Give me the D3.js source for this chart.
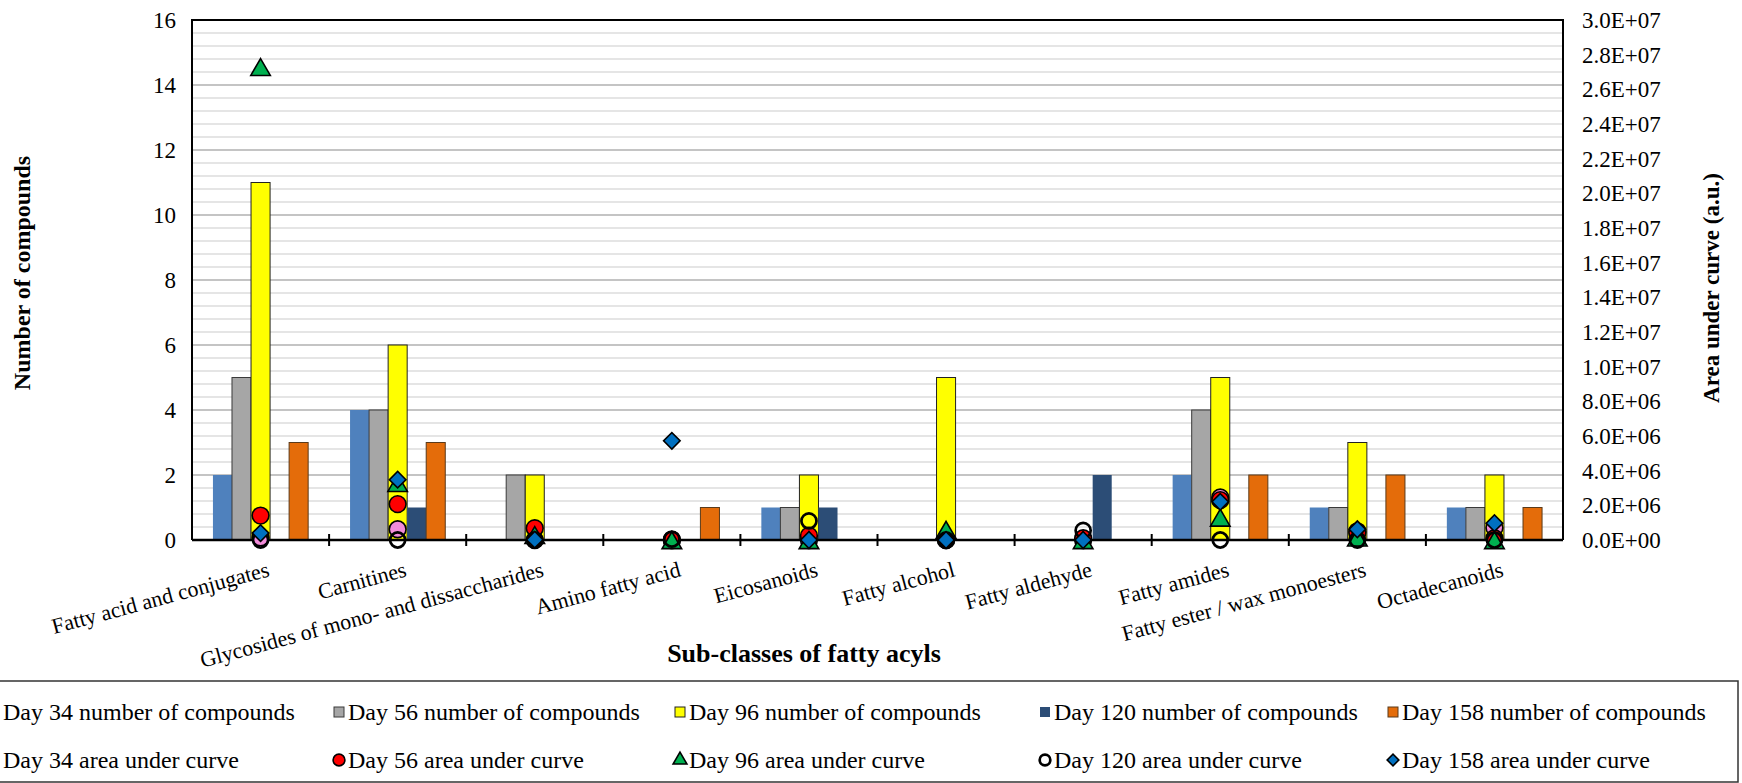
<!DOCTYPE html>
<html>
<head>
<meta charset="utf-8">
<script src="https://cdn.jsdelivr.net/npm/d3@7"></script>
<style>
  body { margin: 0; background: #fff; }
  svg { display: block; font-family: "Liberation Serif", "Times New Roman", serif; }
</style>
</head>
<body>
<svg width="1742" height="783"></svg>
<script>
// categories (sub-classes of fatty acyls)
var categories = ["Fatty acid and conjugates", "Carnitines", "Glycosides of mono- and dissaccharides",
  "Amino fatty acid", "Eicosanoids", "Fatty alcohol", "Fatty aldehyde", "Fatty amides",
  "Fatty ester / wax monoesters", "Octadecanoids"]
var days = ["Day 34", "Day 56", "Day 96", "Day 120", "Day 158"]

// number of compounds (left axis)
var count34  = [2, 4, 0, 0, 1, 0, 0, 2, 1, 1]
var count56  = [5, 4, 2, 0, 1, 0, 0, 4, 1, 1]
var count96  = [11, 6, 2, 0, 2, 5, 0, 5, 3, 2]
var count120 = [0, 1, 0, 0, 1, 0, 2, 0, 0, 0]
var count158 = [3, 3, 0, 1, 0, 0, 0, 2, 2, 1]

// area under curve (right axis)
var area34  = [0.15e6, 0.62e6, 0, 0, 0, 0, 0, 2.45e6, 0.5e6, 0.7e6]
var area56  = [1.41e6, 2.07e6, 0.68e6, 0, 0.25e6, 0, 0.1e6, 2.3e6, 0.42e6, 0.1e6]
var area96  = [27.3e6, 3.3e6, 0.3e6, 0, 0, 0.6e6, 0, 1.3e6, 0.15e6, 0]
var area120 = [0, 0, 0, 0.05e6, 1.1e6, 0, 0.55e6, 0, 0, 0]
var area158 = [0.4e6, 3.48e6, 0.02e6, 5.72e6, 0, 0, 0, 2.2e6, 0.62e6, 0.97e6]

var leftTicks = [0, 2, 4, 6, 8, 10, 12, 14, 16]
var rightTicks = [0, 2e6, 4e6, 6e6, 8e6, 10e6, 12e6, 14e6, 16e6, 18e6, 20e6, 22e6, 24e6, 26e6, 28e6, 30e6]

var counts = [count34, count56, count96, count120, count158]
var areas = [area34, area56, area96, area120, area158]

var barColors = ["#4f81bd", "#a6a6a6", "#ffff00", "#2c4d76", "#e46c0a"]
var barStroke = [null, "#3a3a3a", "#222", null, "#5a3a1a"]

var svg = d3.select("svg"),
    pLeft = 192, pRight = 1563, pTop = 20, pBottom = 540

var x = d3.scaleBand().domain(categories).range([pLeft, pRight])
var xi = d3.scaleBand().domain(days).range([0, x.bandwidth()]).paddingOuter(1.1)
var yL = d3.scaleLinear().domain([0, 16]).range([pBottom, pTop])
var yR = d3.scaleLinear().domain([0, 3e7]).range([pBottom, pTop])

// gridlines
var grid = svg.append("g")
grid.selectAll("line.minor")
  .data(d3.range(0.4, 16, 0.4).filter(function(d) { return Math.abs(d / 2 - Math.round(d / 2)) > 0.01 }))
  .enter().append("line")
  .attr("x1", pLeft).attr("x2", pRight)
  .attr("y1", function(d) { return yL(d) }).attr("y2", function(d) { return yL(d) })
  .attr("stroke", "#dcdcdc").attr("stroke-width", 1.3)
grid.selectAll("line.major")
  .data(leftTicks.slice(1, -1))
  .enter().append("line")
  .attr("x1", pLeft).attr("x2", pRight)
  .attr("y1", function(d) { return yL(d) }).attr("y2", function(d) { return yL(d) })
  .attr("stroke", "#b0b0b0").attr("stroke-width", 1.3)

// bars
counts.forEach(function(arr, s) {
  svg.append("g").selectAll("rect")
    .data(arr.map(function(v, i) { return {c: categories[i], v: v} }).filter(function(d) { return d.v > 0 }))
    .enter().append("rect")
    .attr("x", function(d) { return x(d.c) + xi(days[s]) })
    .attr("y", function(d) { return yL(d.v) })
    .attr("width", xi.bandwidth())
    .attr("height", function(d) { return yL(0) - yL(d.v) })
    .attr("fill", barColors[s])
    .attr("stroke", barStroke[s] || "none")
    .attr("stroke-width", 1)
})

// plot frame
svg.append("path")
  .attr("d", "M" + pLeft + "," + pBottom + "V" + pTop + "H" + pRight + "V" + pBottom)
  .attr("fill", "none").attr("stroke", "#000").attr("stroke-width", 2)

// x axis with ticks between categories
var xAxis = svg.append("g")
xAxis.append("line").attr("x1", pLeft).attr("x2", pRight).attr("y1", pBottom).attr("y2", pBottom)
  .attr("stroke", "#000").attr("stroke-width", 2.5)
xAxis.selectAll("line.tick")
  .data(categories.slice(1))
  .enter().append("line")
  .attr("x1", function(d) { return x(d) }).attr("x2", function(d) { return x(d) })
  .attr("y1", pBottom - 6).attr("y2", pBottom + 6)
  .attr("stroke", "#000").attr("stroke-width", 2)

// markers
function markerPath(s, size) {
  if (s == 2) return d3.symbol().type(d3.symbolTriangle).size(size * 0.75)()
  if (s == 4) return d3.symbol().type(d3.symbolSquare).size(size * 0.62)()
  return d3.symbol().type(d3.symbolCircle).size(size)()
}
var markerFill = ["#f28bd9", "#ff0000", "#00b050", "none", "#0070c0"]

function drawMarker(g, s, cx, cy, size) {
  var p = g.append("path")
    .attr("d", markerPath(s, size))
    .attr("fill", markerFill[s])
    .attr("stroke", "#000")
    .attr("stroke-width", s == 3 ? 3 : 1.6)
  var tr = "translate(" + cx + "," + cy + ")"
  if (s == 4) tr += " rotate(45)"
  if (s == 3) p.attr("transform", tr + " scale(0.9)")
  else p.attr("transform", tr)
}

areas.forEach(function(arr, s) {
  var g = svg.append("g")
  arr.forEach(function(v, i) {
    var cy = yR(v)
    if (s == 2) cy += 3
    drawMarker(g, s, x(categories[i]) + x.bandwidth() / 2, cy, 220)
  })
})

// left axis labels
svg.append("g").selectAll("text")
  .data(leftTicks).enter().append("text")
  .attr("x", 176).attr("y", function(d) { return yL(d) })
  .attr("dy", "0.35em").attr("text-anchor", "end")
  .attr("font-size", 23)
  .text(function(d) { return d })

// right axis labels
svg.append("g").selectAll("text")
  .data(rightTicks).enter().append("text")
  .attr("x", 1582).attr("y", function(d) { return yR(d) })
  .attr("dy", "0.35em")
  .attr("font-size", 23)
  .text(function(d) { return d3.format(".1e")(d).replace("e+", "E+0") })

// category labels
svg.append("g").selectAll("text")
  .data(categories).enter().append("text")
  .attr("transform", function(d) {
    return "translate(" + (x(d) + x.bandwidth() / 2 + 10) + "," + (pBottom + 36) + ") rotate(-15)"
  })
  .attr("text-anchor", "end")
  .attr("font-size", 22)
  .text(function(d) { return d })

// axis titles
svg.append("text")
  .attr("x", 804).attr("y", 662)
  .attr("text-anchor", "middle").attr("font-weight", "bold").attr("font-size", 26)
  .text("Sub-classes of fatty acyls")
svg.append("text")
  .attr("transform", "translate(22,273) rotate(-90)")
  .attr("text-anchor", "middle").attr("dy", "0.35em").attr("font-weight", "bold").attr("font-size", 24)
  .text("Number of compounds")
svg.append("text")
  .attr("transform", "translate(1711,288) rotate(-90)")
  .attr("text-anchor", "middle").attr("dy", "0.35em").attr("font-weight", "bold").attr("font-size", 23)
  .text("Area under curve (a.u.)")

// legend (box is cut at left edge like the original)
var legend = svg.append("g")
legend.append("rect")
  .attr("x", -4).attr("y", 681).attr("width", 1742).attr("height", 101)
  .attr("fill", "none").attr("stroke", "#333").attr("stroke-width", 1.5)
var colX = [3, 348, 689, 1054, 1402]
days.forEach(function(day, s) {
  var tx = colX[s]
  legend.append("rect")
    .attr("x", tx - 14).attr("y", 707).attr("width", 10).attr("height", 10)
    .attr("fill", barColors[s]).attr("stroke", barStroke[s] || "none").attr("stroke-width", 1)
  legend.append("text")
    .attr("x", tx).attr("y", 712).attr("dy", "0.35em").attr("font-size", 24)
    .text(day + " number of compounds")
  drawMarker(legend, s, s == 0 ? -12 : tx - 9, 760, 110)
  legend.append("text")
    .attr("x", tx).attr("y", 760).attr("dy", "0.35em").attr("font-size", 24)
    .text(day + " area under curve")
})
</script>
</body>
</html>
